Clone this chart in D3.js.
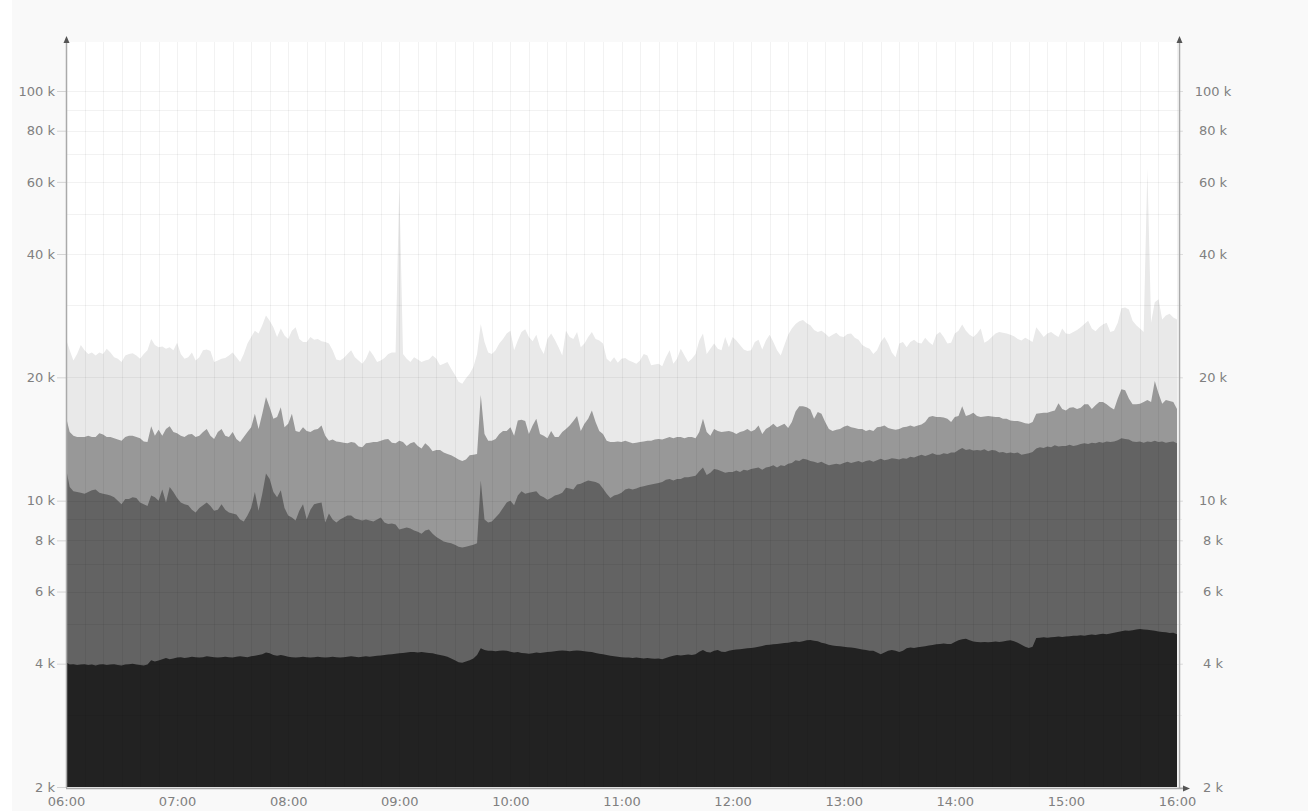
<!DOCTYPE html>
<html>
<head>
<meta charset="utf-8">
<script src="https://cdn.jsdelivr.net/npm/d3@7"></script>
<style>
  html, body { margin: 0; padding: 0; background: #ffffff; }
  svg { display: block; }
  .tick text { font-family: "DejaVu Sans", sans-serif; font-size: 13px; fill: #808080; }
</style>
</head>
<body>
<svg id="chart" width="1308" height="811"></svg>
<script>
// Sampling: one value every 2 minutes from 06:00 to 16:00 (values in thousands)
const START = new Date(2000, 0, 1, 6, 0);
const END = new Date(2000, 0, 1, 16, 0);
const STEP_MINUTES = 2;

const lightSeries = [
  24.8,23.3,22.0,22.8,24.0,23.3,22.8,23.0,22.6,23.0,22.8,23.5,23.0,22.4,22.2,21.8,22.6,22.8,22.9,22.6,22.2,22.8,23.3,24.8,24.0,23.7,23.8,23.5,23.7,23.3,
  24.3,22.8,22.2,22.4,23.0,22.0,22.4,23.3,23.4,23.2,21.8,22.0,22.2,22.3,22.6,23.0,22.4,21.8,22.8,24.2,25.1,26.0,25.6,26.8,28.3,27.5,26.5,25.1,26.3,25.3,
  24.8,26.0,26.5,24.8,24.4,24.4,25.1,24.7,24.8,24.5,24.4,24.2,23.3,22.1,22.0,22.3,22.8,23.3,22.4,22.0,21.6,22.2,23.3,22.6,21.8,22.0,22.3,22.8,23.0,23.0,
  58.9,22.8,22.2,21.8,22.4,22.1,21.8,22.0,22.1,22.6,22.2,21.4,21.6,21.8,21.0,20.3,19.5,19.3,19.9,20.4,21.2,22.8,27.0,24.4,23.0,22.8,23.3,24.2,24.8,25.6,
  26.0,23.3,24.6,25.8,26.2,25.1,24.5,25.4,23.7,22.8,24.8,25.6,24.7,23.7,22.6,26.0,25.1,24.8,25.8,23.7,24.2,25.1,25.8,24.8,24.6,24.2,22.2,21.8,22.4,21.7,
  22.2,22.3,22.0,21.8,21.6,22.0,22.8,22.6,21.4,21.5,21.6,21.3,22.4,23.3,21.6,22.2,23.5,22.6,21.8,22.2,22.8,24.6,25.6,22.8,23.5,24.2,23.5,23.3,25.1,23.7,
  25.1,24.6,24.0,23.4,23.2,23.3,24.4,24.7,23.4,24.6,25.4,24.4,23.3,22.6,24.0,25.4,26.3,27.0,27.4,27.6,27.1,26.8,26.1,25.8,26.0,25.6,25.1,25.4,25.7,25.2,
  25.1,25.5,25.6,25.0,24.7,24.0,23.7,23.5,22.8,23.3,24.4,25.1,24.2,23.0,22.4,24.2,24.4,23.7,24.4,24.7,24.3,24.2,25.0,24.4,24.0,25.4,25.8,25.1,24.2,24.3,
  25.6,26.0,26.9,26.0,25.4,25.1,25.6,26.3,24.3,24.6,25.1,25.6,25.8,25.7,25.6,25.4,25.2,24.8,24.6,25.0,24.7,24.4,26.5,25.8,25.1,25.6,25.8,25.4,25.1,26.3,
  25.6,25.5,25.8,26.1,26.5,27.0,27.5,26.3,25.9,26.5,26.9,27.2,25.8,26.0,27.2,29.5,29.6,29.3,27.5,26.8,26.3,25.8,64.8,27.2,30.5,31.0,27.7,28.3,28.6,28.0,27.7
];

const mediumSeries = [
  16.0,14.7,14.4,14.3,14.3,14.3,14.4,14.3,14.3,14.6,14.5,14.3,14.3,14.2,14.1,14.0,14.3,14.4,14.4,14.3,14.2,13.95,13.9,15.2,14.4,14.9,14.4,14.95,15.2,14.7,
  14.6,14.4,14.3,14.5,14.55,14.3,14.4,14.7,14.95,14.4,14.15,14.7,14.95,14.4,14.3,14.7,14.15,13.9,14.3,14.7,15.1,16.3,14.95,16.3,17.9,16.9,15.85,16.0,16.9,15.1,
  15.4,16.3,14.8,14.7,15.1,14.8,14.7,14.9,14.95,15.25,14.4,14.0,14.1,13.95,13.9,13.85,13.8,13.9,13.85,13.55,13.5,13.8,13.85,13.9,13.9,14.0,14.1,14.15,13.85,13.8,
  14.0,13.9,13.6,13.8,13.9,13.6,13.4,13.8,13.55,13.2,13.3,13.3,13.1,13.0,12.9,12.76,12.6,12.5,12.6,12.9,12.95,13.0,18.1,14.55,14.0,14.0,14.15,14.55,14.8,14.8,
  15.1,14.4,15.7,15.75,15.65,14.55,15.25,15.85,14.55,14.4,14.2,14.8,14.3,14.3,14.7,14.95,15.25,15.65,16.1,14.8,15.4,15.85,16.6,15.55,14.8,14.55,14.0,13.9,13.9,13.95,
  13.9,14.0,13.9,13.8,13.85,13.9,13.95,14.0,14.0,14.1,14.15,14.1,14.2,14.3,14.2,14.3,14.3,14.2,14.3,14.3,14.2,14.7,15.85,14.7,14.4,14.95,14.8,14.7,14.75,14.8,
  14.7,14.55,14.7,14.8,14.95,14.75,14.9,15.25,14.55,14.95,15.15,15.4,15.1,15.25,15.4,15.05,15.55,16.5,17.0,17.0,16.9,16.7,15.85,16.45,16.3,15.55,14.95,14.8,14.9,14.95,
  15.15,15.25,15.1,15.05,14.95,14.95,14.8,14.9,14.8,15.1,15.15,15.25,15.05,14.95,14.9,14.95,15.1,15.15,15.25,15.15,15.25,15.35,15.55,16.0,16.1,16.0,16.0,15.95,15.85,15.55,
  16.0,16.1,17.0,16.1,16.2,16.4,16.1,16.0,16.05,16.1,16.05,16.0,16.0,15.85,15.85,15.7,15.65,15.65,15.55,15.45,15.4,15.55,16.3,16.35,16.4,16.4,16.5,16.6,17.3,16.75,
  16.6,16.85,16.9,16.75,16.85,17.2,17.2,16.75,17.1,17.4,17.4,17.2,16.9,16.7,17.75,18.7,18.6,17.75,17.2,17.2,17.25,17.4,17.6,17.4,19.6,18.3,17.25,17.6,17.5,17.4,16.75
];

const darkSeries = [
  12.0,10.8,10.55,10.5,10.45,10.4,10.5,10.6,10.65,10.45,10.4,10.35,10.3,10.2,10.0,9.8,10.1,10.1,10.2,10.15,9.9,9.8,9.7,10.3,10.2,10.0,10.65,9.9,10.8,10.5,
  10.15,9.9,9.8,9.75,9.5,9.35,9.6,9.75,9.9,9.7,9.45,9.5,9.8,9.5,9.35,9.3,9.25,9.0,8.9,9.2,9.6,10.5,9.45,10.4,11.65,11.3,10.5,10.2,10.6,9.6,
  9.2,9.1,8.94,9.45,9.8,9.0,9.5,9.8,9.85,9.9,8.85,9.3,9.0,8.85,9.0,9.1,9.2,9.2,9.05,9.0,8.95,9.0,8.94,8.9,9.0,9.1,8.85,8.77,8.8,8.75,
  8.5,8.55,8.6,8.55,8.45,8.4,8.3,8.45,8.5,8.3,8.15,8.05,7.95,7.9,7.87,7.8,7.72,7.68,7.72,7.76,7.8,7.87,11.2,9.0,8.85,8.9,9.1,9.3,9.6,9.9,
  10.0,9.75,10.3,10.55,10.4,10.45,10.5,10.55,10.3,10.2,10.05,10.15,10.3,10.35,10.45,10.75,10.7,10.65,10.95,11.0,11.1,11.2,11.15,11.1,11.0,10.7,10.4,10.15,10.3,10.35,
  10.45,10.65,10.7,10.65,10.7,10.8,10.85,10.9,10.95,11.0,11.05,11.1,11.25,11.3,11.2,11.3,11.3,11.4,11.4,11.45,11.5,11.8,12.05,11.55,11.7,11.95,11.9,11.8,11.7,11.75,
  11.75,11.85,11.75,11.9,11.85,11.95,12.0,12.05,11.9,12.05,12.1,12.2,12.05,12.2,12.15,12.3,12.35,12.55,12.5,12.65,12.6,12.5,12.45,12.35,12.45,12.3,12.2,12.25,12.3,12.25,
  12.35,12.45,12.35,12.42,12.5,12.4,12.5,12.55,12.45,12.55,12.65,12.55,12.6,12.7,12.65,12.6,12.7,12.65,12.8,12.75,12.85,12.95,12.85,12.95,13.05,12.95,12.95,13.05,13.0,13.1,
  13.1,13.3,13.45,13.3,13.35,13.25,13.3,13.25,13.35,13.2,13.3,13.25,13.1,13.15,13.05,13.1,13.05,13.1,12.95,13.0,13.05,13.15,13.4,13.5,13.45,13.55,13.5,13.65,13.55,13.6,
  13.6,13.7,13.6,13.65,13.75,13.8,13.75,13.85,13.8,13.9,13.85,13.95,13.9,13.95,14.05,14.2,14.15,14.1,13.95,13.9,13.95,13.85,13.95,13.9,14.0,13.9,13.95,13.85,13.9,13.95,13.8
];

const baseSeries = [
  4.03,3.98,3.99,3.97,3.98,3.99,3.97,3.98,3.96,3.98,3.99,3.97,3.98,3.99,3.97,3.96,3.98,3.99,4.0,3.98,3.97,3.96,3.98,4.08,4.05,4.07,4.1,4.13,4.1,4.12,
  4.14,4.15,4.13,4.14,4.16,4.15,4.14,4.15,4.17,4.16,4.15,4.14,4.15,4.16,4.15,4.14,4.16,4.17,4.16,4.15,4.17,4.18,4.2,4.22,4.26,4.24,4.2,4.18,4.2,4.18,
  4.16,4.15,4.14,4.15,4.16,4.15,4.14,4.15,4.16,4.15,4.14,4.15,4.16,4.15,4.14,4.15,4.16,4.17,4.16,4.15,4.16,4.17,4.16,4.17,4.18,4.19,4.2,4.21,4.22,4.23,
  4.24,4.25,4.26,4.27,4.27,4.26,4.27,4.26,4.25,4.24,4.22,4.2,4.18,4.16,4.12,4.08,4.03,4.02,4.05,4.08,4.12,4.2,4.36,4.32,4.3,4.3,4.29,4.3,4.31,4.3,
  4.28,4.26,4.27,4.25,4.24,4.23,4.24,4.26,4.25,4.26,4.27,4.28,4.29,4.3,4.31,4.3,4.29,4.3,4.31,4.3,4.29,4.28,4.27,4.25,4.23,4.22,4.2,4.18,4.17,4.16,
  4.15,4.14,4.14,4.13,4.14,4.13,4.12,4.13,4.12,4.11,4.12,4.1,4.13,4.16,4.18,4.2,4.19,4.2,4.21,4.2,4.22,4.28,4.32,4.27,4.26,4.3,4.32,4.28,4.27,4.3,
  4.32,4.33,4.34,4.35,4.36,4.37,4.38,4.4,4.42,4.44,4.45,4.46,4.47,4.48,4.49,4.5,4.52,4.53,4.52,4.54,4.56,4.57,4.55,4.54,4.5,4.48,4.45,4.43,4.42,4.41,
  4.4,4.39,4.38,4.37,4.35,4.33,4.32,4.3,4.3,4.26,4.22,4.26,4.3,4.32,4.3,4.27,4.3,4.36,4.38,4.37,4.39,4.4,4.41,4.43,4.44,4.46,4.47,4.48,4.47,4.47,
  4.52,4.56,4.59,4.6,4.56,4.53,4.52,4.51,4.52,4.51,4.52,4.53,4.52,4.53,4.55,4.56,4.54,4.5,4.45,4.4,4.37,4.4,4.62,4.63,4.64,4.63,4.64,4.65,4.66,4.65,
  4.66,4.67,4.68,4.68,4.69,4.68,4.7,4.71,4.7,4.72,4.73,4.72,4.74,4.76,4.78,4.8,4.82,4.81,4.83,4.85,4.86,4.85,4.84,4.83,4.81,4.79,4.78,4.77,4.75,4.76,4.72
];

const yTickValues = [2, 4, 6, 8, 10, 20, 40, 60, 80, 100];
const yDomain = [2, 100];

// Layers drawn back to front, each filled from the bottom of the plot
const layers = [
  { values: lightSeries,  fill: "#e9e9e9" },
  { values: mediumSeries, fill: "#989898" },
  { values: darkSeries,   fill: "#636363" },
  { values: baseSeries,   fill: "#222222" }
];

(function draw() {
  const svg = d3.select("#chart");
  const plotLeft = 66, plotRight = 1178, plotTop = 42, plotBottom = 787;
  const rightAxisX = 1179;

  const x = d3.scaleTime().domain([START, END]).range([plotLeft, plotRight - 1]);
  const y = d3.scaleLog().domain(yDomain).range([plotBottom, 91]);

  const timeAt = i => d3.timeMinute.offset(START, i * STEP_MINUTES);

  // Canvas and plot backgrounds
  svg.append("rect").attr("x", 12).attr("y", 0).attr("width", 1296).attr("height", 811).attr("fill", "#f9f9f9");
  svg.append("rect").attr("x", plotLeft).attr("y", plotTop)
    .attr("width", rightAxisX - plotLeft).attr("height", plotBottom - plotTop + 1).attr("fill", "#ffffff");

  // Areas, each filled down to the baseline
  const area = d3.area()
    .x((d, i) => x(timeAt(i)))
    .y0(plotBottom)
    .y1(d => y(d))
    .curve(d3.curveLinear);

  svg.append("g").selectAll("path")
    .data(layers)
    .join("path")
    .attr("d", d => area(d.values))
    .attr("fill", d => d.fill);

  // Grid over the areas
  const grid = svg.append("g").attr("stroke", "rgba(0,0,0,0.05)").attr("stroke-width", 1).attr("shape-rendering", "crispEdges");
  grid.selectAll("line.h")
    .data(y.ticks())
    .join("line")
    .attr("class", "h")
    .attr("x1", plotLeft).attr("x2", rightAxisX + 3)
    .attr("y1", d => Math.round(y(d)) + 0.5).attr("y2", d => Math.round(y(d)) + 0.5);
  grid.selectAll("line.v")
    .data(d3.timeMinute.every(10).range(START, d3.timeMinute.offset(END, 1)))
    .join("line")
    .attr("class", "v")
    .attr("x1", d => Math.round(x(d)) + 0.5).attr("x2", d => Math.round(x(d)) + 0.5)
    .attr("y1", plotTop).attr("y2", plotBottom);

  // Left axis
  const axisColor = "#aaaaaa";
  const leftAxis = svg.append("g").attr("transform", `translate(${plotLeft},0)`)
    .call(d3.axisLeft(y).tickValues(yTickValues).tickFormat(d => `${d} k`).tickSize(9).tickPadding(2));
  leftAxis.select(".domain").remove();
  leftAxis.selectAll(".tick line").attr("stroke", "#d4d4d4");

  // Right axis
  const rightAxis = svg.append("g").attr("transform", `translate(${rightAxisX},0)`)
    .call(d3.axisRight(y).tickValues(yTickValues).tickFormat(d => `${d} k`).tickSize(4).tickPadding(30));
  rightAxis.select(".domain").remove();
  rightAxis.selectAll(".tick line").attr("stroke", "#dddddd");
  rightAxis.selectAll(".tick text").attr("text-anchor", "middle");

  // Bottom axis
  const bottomAxis = svg.append("g").attr("transform", `translate(0,${plotBottom + 1})`)
    .call(d3.axisBottom(x).ticks(d3.timeHour.every(1)).tickFormat(d3.timeFormat("%H:%M")).tickSize(0).tickPadding(9));
  bottomAxis.select(".domain").remove();

  // Axis lines with arrow heads
  const axes = svg.append("g");
  axes.append("line").attr("x1", plotLeft + 0.5).attr("x2", plotLeft + 0.5).attr("y1", 41).attr("y2", plotBottom + 1)
    .attr("stroke", axisColor).attr("stroke-width", 1.5);
  axes.append("line").attr("x1", rightAxisX + 0.5).attr("x2", rightAxisX + 0.5).attr("y1", 41).attr("y2", plotBottom + 1)
    .attr("stroke", axisColor).attr("stroke-width", 1.5);
  axes.append("line").attr("x1", plotLeft).attr("x2", 1184).attr("y1", plotBottom + 1.5).attr("y2", plotBottom + 1.5)
    .attr("stroke", axisColor).attr("stroke-width", 1.5);

  const arrowFill = "#555555";
  axes.append("path").attr("d", `M${plotLeft + 0.5},36 L${plotLeft + 3.5},43 L${plotLeft - 2.5},43 Z`).attr("fill", arrowFill);
  axes.append("path").attr("d", `M${rightAxisX + 0.5},36 L${rightAxisX + 3.5},43 L${rightAxisX - 2.5},43 Z`).attr("fill", arrowFill);
  axes.append("path").attr("d", `M1190,${plotBottom + 1.5} L1183,${plotBottom - 1.5} L1183,${plotBottom + 4.5} Z`).attr("fill", arrowFill);
})();
</script>
</body>
</html>
